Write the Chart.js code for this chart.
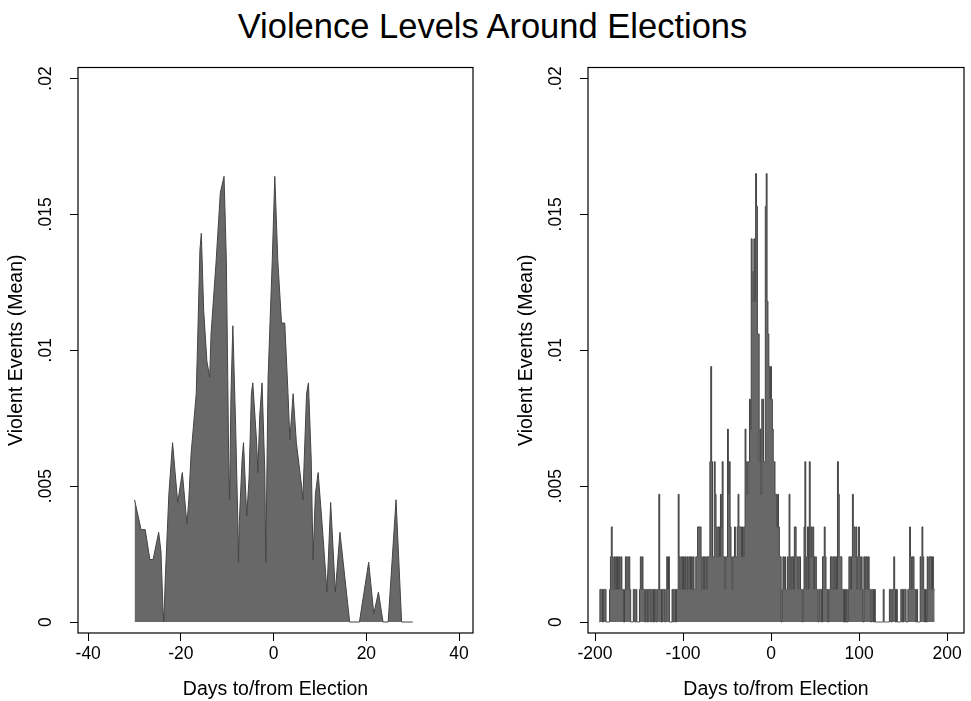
<!DOCTYPE html>
<html>
<head>
<meta charset="utf-8">
<title>Violence Levels Around Elections</title>
<script src="https://cdn.jsdelivr.net/npm/chart.js@4.4.1/dist/chart.umd.min.js"></script>
<style>
  body { margin: 0; background: #fff; width: 971px; height: 701px; position: relative; overflow: hidden; font-family: "Liberation Sans", Arial, sans-serif; }
  #title { position: absolute; top: 6px; left: 7px; width: 971px; text-align: center; font-size: 34.5px; line-height: 40px; color: #000; }
  canvas { position: absolute; top: 50px; }
  #leftChart { left: 0; }
  #rightChart { left: 510px; }
</style>
</head>
<body>
<div id="title">Violence Levels Around Elections</div>
<canvas id="leftChart" width="490" height="651"></canvas>
<canvas id="rightChart" width="461" height="651"></canvas>
<script>
// y axis (shared)
const yTicks = [0, 0.005, 0.01, 0.015, 0.02];
const yTickLabels = ["0", ".005", ".01", ".015", ".02"];

// left panel: -30..30 days
const leftXTicks = [-40, -20, 0, 20, 40];
const leftDays = [
  -30, -28.6, -27.7, -26.7, -26.0, -24.8, -24.3, -23.9, -23.7, -23.35,
  -22.6, -21.8, -20.7, -19.7, -18.7, -18.3, -17.8, -16.7, -16.4, -15.9,
  -15.6, -15.1, -14.4, -13.8, -13.5, -12.4, -11.5, -10.7, -10.2, -9.9,
  -9.7, -9.5, -9.2, -8.8, -8.2, -7.7, -7.6, -7.4, -6.8, -6.5,
  -5.8, -5.3, -4.8, -4.5, -3.7, -3.4, -3.0, -2.5, -1.9, -1.7,
  -1.6, -1.2, -0.3, 0.25, 0.9, 1.7, 2.4, 3.1, 3.5, 4.2,
  4.9, 6.1, 6.3, 7.1, 7.5, 8.1, 8.5, 9.0, 9.6, 10.5,
  11.5, 12.3, 13.3, 14.3, 16.4, 18.5, 20.5, 21.6, 22.6, 23.6,
  24.7, 26.4, 27.6, 30
];
const leftValues = [
  .0045, .0034, .0034, .0023, .0023, .0033, .0026, .0006, 0, .0017,
  .0047, .0066, .0044, .0055, .0036, .0045, .0062, .0084, .0103, .0137,
  .0143, .0115, .0096, .0090, .0106, .0133, .0158, .0164, .0133, .0090,
  .0060, .0045, .0084, .0109, .0072, .0035, .0022, .0037, .0060, .0066,
  .0039, .0053, .0084, .0088, .0067, .0055, .0076, .0088, .0055, .0022,
  .0035, .0090, .0133, .0164, .0133, .0110, .0110, .0084, .0067, .0084,
  .0066, .0049, .0045, .0084, .0088, .0060, .0023, .0047, .0055, .0035,
  .0011, .0044, .0011, .0033, 0, 0, .0022, .0003, .0011, 0,
  0, .0045, 0, 0
];

// right panel: one value per day, starting at day -195
const rightXTicks = [-200, -100, 0, 100, 200];
const rightFirstDay = -195;
const rightValues = [
  0, .0012, .0012, .0012, 0, .0012, .0012, .0012, 0, 0,
  0, 0, .0012, .0024, .0035, .0024, .0012, .0024, .0012, .0024,
  .0012, .0024, .0012, .0024, .0012, .0024, .0012, .0012, 0, .0012,
  .0024, .0024, .0012, .0024, .0024, .0012, 0, 0, 0, .0012,
  .0012, 0, .0012, 0, 0, 0, .0012, .0024, .0012, .0024,
  .0012, .0012, 0, .0012, .0012, 0, .0012, .0012, .0012, 0,
  .0012, .0012, 0, .0012, .0012, 0, .0012, .0012, .0047, .0012,
  .0012, 0, .0012, .0012, .0012, 0, .0012, .0024, .0012, .0024,
  0, 0, 0, .0012, 0, .0012, .0012, 0, .0012, .0012,
  .0047, .0024, .0012, .0024, .0024, .0012, .0024, .0012, .0024, .0012,
  .0024, .0012, .0024, .0024, .0012, .0024, .0012, .0024, .0012, .0012,
  .0024, .0024, .0035, .0035, .0035, .0035, .0024, .0012, .0024, .0012,
  .0024, .0024, .0012, .0024, .0024, .0024, .0059, .0094, .0059, .0024,
  .0024, .0059, .0047, .0035, .0024, .0035, .0035, .0024, .0047, .0035,
  .0059, .0024, .0024, .0012, .0024, .0024, .0071, .0047, .0059, .0035,
  .0024, .0012, .0024, .0024, .0035, .0024, .0024, .0035, .0047, .0035,
  .0035, .0035, .0024, .0035, .0024, .0035, .0071, .0059, .0047, .0059,
  .0059, .0082, .0071, .0141, .0118, .0129, .0141, .0118, .0165, .0153,
  .0106, .0106, .0059, .0071, .0047, .0082, .0082, .0059, .0059, .0153,
  .0165, .0118, .0106, .0094, .0082, .0094, .0082, .0071, .0059, .0059,
  .0047, .0047, .0035, .0047, .0035, .0024, .0024, 0, .0012, .0024,
  .0012, .0024, .0012, .0012, .0024, .0012, .0047, .0024, .0012, .0024,
  .0024, .0012, .0035, .0035, .0024, .0024, .0012, .0024, .0024, .0012,
  .0012, 0, .0012, .0035, .0059, .0012, .0024, .0035, .0012, .0059,
  .0024, .0035, .0024, .0035, .0012, .0024, .0024, .0012, .0012, 0,
  .0012, .0012, .0012, 0, .0024, .0024, .0035, .0024, .0012, .0012,
  0, .0012, .0012, .0024, .0024, .0012, .0024, .0024, .0012, .0024,
  .0012, .0059, .0047, .0024, .0024, .0024, .0012, .0012, 0, .0012,
  0, .0012, 0, .0012, .0024, .0024, .0012, .0024, .0047, .0035,
  .0035, .0024, .0035, .0012, .0024, .0035, .0024, .0012, .0024, .0012,
  0, .0024, .0012, .0024, .0024, .0012, .0024, .0012, .0012, 0,
  .0012, .0012, 0, .0012, 0, 0, 0, 0, 0, 0,
  0, 0, 0, .0012, 0, 0, 0, 0, 0, 0,
  .0012, .0012, 0, .0012, .0012, .0024, .0012, 0, .0012, 0,
  0, 0, 0, .0012, .0012, 0, .0012, .0012, .0012, 0,
  0, .0012, .0012, .0035, .0024, .0012, .0024, .0024, .0012, .0012,
  0, .0012, 0, 0, 0, .0024, .0012, .0035, .0024, .0012,
  0, .0012, 0, .0024, .0012, .0024, .0024, .0024, .0012, .0024,
  .0012, .0012
];

const FONT = "'Liberation Sans', Arial, sans-serif";
const AREA_FILL = "rgb(104,104,104)";
const AREA_LINE = "rgb(68,68,68)";

// draws the full black frame around the plot region
const frameBox = {
  id: "frameBox",
  afterDraw(chart) {
    const { ctx, chartArea: a } = chart;
    ctx.save();
    ctx.strokeStyle = "#000";
    ctx.lineWidth = 1.2;
    ctx.strokeRect(a.left, a.top, a.right - a.left, a.bottom - a.top);
    ctx.restore();
  }
};

function makeChart(canvasId, points, stepped, xMin, xMax, xTicks, rightPad) {
  const ctx = document.getElementById(canvasId).getContext("2d");
  return new Chart(ctx, {
    type: "line",
    data: {
      datasets: [{
        data: points,
        fill: "origin",
        backgroundColor: AREA_FILL,
        borderColor: AREA_LINE,
        borderWidth: 1,
        pointRadius: 0,
        tension: 0,
        stepped: stepped
      }]
    },
    options: {
      responsive: false,
      animation: false,
      layout: { padding: { top: 17, right: rightPad, left: 0, bottom: 0 } },
      plugins: { legend: { display: false }, tooltip: { enabled: false } },
      scales: {
        x: {
          type: "linear",
          min: xMin,
          max: xMax,
          afterBuildTicks: (axis) => { axis.ticks = xTicks.map(v => ({ value: v })); },
          afterFit: (axis) => { axis.height = 68; },
          border: { display: false },
          grid: { display: true, drawOnChartArea: false, drawTicks: true, tickLength: 8, color: "#000" },
          ticks: { color: "#000", font: { family: FONT, size: 17.5 }, padding: 3, maxRotation: 0, autoSkip: false },
          title: { display: true, text: "Days to/from Election", color: "#000", font: { family: FONT, size: 19.5 }, padding: { top: 0, bottom: 0 } }
        },
        y: {
          min: -0.000404,
          max: 0.020404,
          afterBuildTicks: (axis) => { axis.ticks = yTicks.map(v => ({ value: v })); },
          afterFit: (axis) => { axis.width = 78; },
          border: { display: false },
          grid: { display: true, drawOnChartArea: false, drawTicks: true, tickLength: 8, color: "#000" },
          ticks: {
            color: "#000",
            font: { family: FONT, size: 17.5 },
            padding: 7,
            minRotation: 90,
            maxRotation: 90,
            crossAlign: "center",
            callback: (value, i) => yTickLabels[i]
          },
          title: { display: true, text: "Violent Events (Mean)", color: "#000", font: { family: FONT, size: 19.5 }, padding: { top: 5, bottom: 0 } }
        }
      }
    },
    plugins: [frameBox]
  });
}

const leftPoints = leftDays.map((d, i) => ({ x: d, y: leftValues[i] }));
const rightPoints = rightValues.map((v, i) => ({ x: rightFirstDay + i, y: v }));

makeChart("leftChart", leftPoints, false, -42.2, 43.0, leftXTicks, 17);
makeChart("rightChart", rightPoints, "middle", -208, 219.3, rightXTicks, 7);
</script>
</body>
</html>
